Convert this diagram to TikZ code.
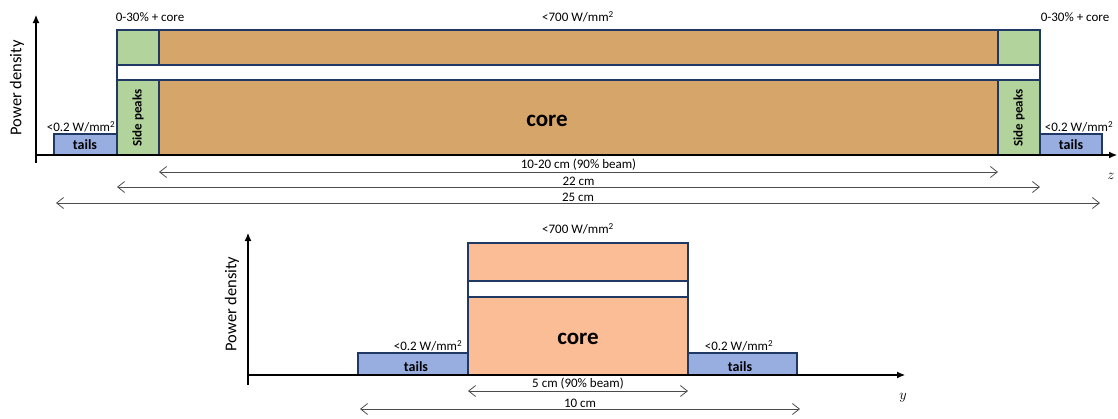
\documentclass[tikz,border=0pt]{standalone}
\usepackage{fontspec}
\setmainfont{Carlito}
\usetikzlibrary{arrows.meta}
\definecolor{edgeblue}{HTML}{203864}
\definecolor{coretan}{HTML}{D5A56A}
\definecolor{peakgreen}{HTML}{B3D39C}
\definecolor{tailblue}{HTML}{98ADE0}
\definecolor{coresalmon}{HTML}{FBBD95}

\begin{document}
\begin{tikzpicture}[x=1pt, y=-1pt,
    box/.style={draw=edgeblue, line width=1.1pt},
    lbl/.style={font=\fontsize{13}{15}\selectfont, inner sep=0pt},
    boldlbl/.style={font=\fontsize{14}{16}\selectfont\bfseries, inner sep=0pt},
    axislbl/.style={font=\fontsize{16.5}{18}\selectfont, inner sep=0pt, rotate=90},
    varlbl/.style={font=\fontsize{15}{17}\selectfont, inner sep=0pt},
    dim/.style={draw=black!70, line width=0.8pt,
        {Straight Barb[length=7pt,width=11pt]}-{Straight Barb[length=7pt,width=11pt]}},
    axis/.style={line width=1.1pt, -{Latex[length=8pt,width=7pt]}}]
\useasboundingbox (0,0) rectangle (1118,418);

% longitudinal profile (z)
\draw[box, fill=peakgreen] (117,30) rectangle (159,65);
\draw[box, fill=coretan] (159,30) rectangle (998,65);
\draw[box, fill=peakgreen] (998,30) rectangle (1040,65);
\draw[box, fill=white] (117,65) rectangle (1040,80);
\draw[box, fill=peakgreen] (117,80) rectangle (159,155);
\draw[box, fill=coretan] (159,80) rectangle (998,155);
\draw[box, fill=peakgreen] (998,80) rectangle (1040,155);
\draw[box, fill=tailblue] (54,134) rectangle (117,155);
\draw[box, fill=tailblue] (1040,134) rectangle (1102,155);

\coordinate (zO) at (36,155);
\coordinate (zTop) at (36,15);
\coordinate (zEnd) at (1117,155);
\draw[line width=1.1pt] (36,163) -- (zO);
\draw[axis] (zO) -- (zTop);
\draw[axis] (zO) -- (zEnd);

\node[axislbl] (zPower) at (17,88) {Power density};
\node[varlbl] (zName) at (1111,176) {$z$};
\node[lbl] (peakL) at (150,17) {0-30\% + core};
\node[lbl] (peakR) at (1075,17) {0-30\% + core};
\node[lbl] (zMax) at (578,17) {<700 W/mm\textsuperscript{2}};
\node[lbl] (zTailL) at (81,127) {<0.2 W/mm\textsuperscript{2}};
\node[lbl] (zTailR) at (1079,127) {<0.2 W/mm\textsuperscript{2}};
\node[boldlbl] (tailsL) at (85,145) {tails};
\node[boldlbl] (tailsR) at (1071,145) {tails};
\node[boldlbl, font=\fontsize{13}{15}\selectfont\bfseries, rotate=90] (sideL) at (138,118) {Side peaks};
\node[boldlbl, font=\fontsize{13}{15}\selectfont\bfseries, rotate=90] (sideR) at (1019,118) {Side peaks};
\node[font=\fontsize{23}{26}\selectfont\bfseries] (zCore) at (547,121) {core};

\coordinate (a1) at (159,172);
\coordinate (b1) at (998,172);
\coordinate (a2) at (117,187);
\coordinate (b2) at (1040,187);
\coordinate (a3) at (56,203);
\coordinate (b3) at (1100,203);
\draw[dim] (a1) -- node[lbl, above=1pt] {10-20 cm (90\% beam)} (b1);
\draw[dim] (a2) -- node[lbl, above=1pt] {22 cm} (b2);
\draw[dim] (a3) -- node[lbl, above=1pt] {25 cm} (b3);

% transverse profile (y)
\draw[box, fill=coresalmon] (468,243) rectangle (688,281);
\draw[box, fill=white] (468,281) rectangle (688,297);
\draw[box, fill=coresalmon] (468,297) rectangle (688,375);
\draw[box, fill=tailblue] (358,353) rectangle (468,375);
\draw[box, fill=tailblue] (688,353) rectangle (797,375);

\coordinate (yO) at (248,375);
\coordinate (yTop) at (248,233);
\coordinate (yEnd) at (905,375);
\draw[line width=1.1pt] (248,385) -- (yO);
\draw[axis] (yO) -- (yTop);
\draw[axis] (yO) -- (yEnd);

\node[axislbl] (yPower) at (232,304) {Power density};
\node[varlbl] (yName) at (903,398) {$y$};
\node[lbl] (yMax) at (578,229) {<700 W/mm\textsuperscript{2}};
\node[lbl] (yTailL) at (428,346) {<0.2 W/mm\textsuperscript{2}};
\node[lbl] (yTailR) at (739,346) {<0.2 W/mm\textsuperscript{2}};
\node[boldlbl] (ytailsL) at (416,367) {tails};
\node[boldlbl] (ytailsR) at (740,367) {tails};
\node[font=\fontsize{23}{26}\selectfont\bfseries] (yCore) at (578,339) {core};

\coordinate (c1) at (468,391);
\coordinate (d1) at (688,391);
\coordinate (c2) at (360,409);
\coordinate (d2) at (800,409);
\draw[dim] (c1) -- node[lbl, above=1pt] {5 cm (90\% beam)} (d1);
\draw[dim] (c2) -- node[lbl, above=1pt] {10 cm} (d2);
\end{tikzpicture}
\end{document}
